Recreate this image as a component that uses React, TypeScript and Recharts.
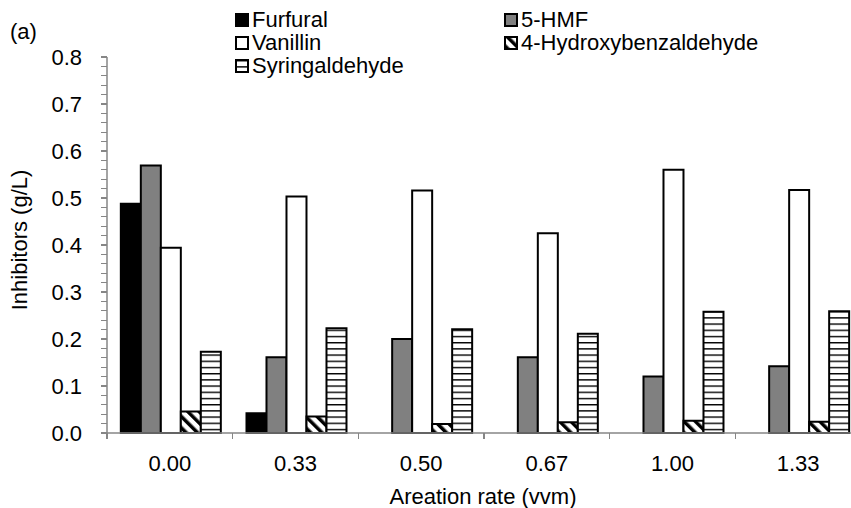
import { Bar, BarChart, XAxis, YAxis } from 'recharts';

const rates = ['0.00', '0.33', '0.50', '0.67', '1.00', '1.33'];
const furfural = [0.488, 0.042, 0, 0, 0, 0];
const hmf = [0.569, 0.161, 0.2, 0.161, 0.12, 0.142];
const vanillin = [0.394, 0.503, 0.516, 0.425, 0.56, 0.517];
const hydroxybenzaldehyde = [0.046, 0.035, 0.019, 0.023, 0.026, 0.024];
const syringaldehyde = [0.173, 0.223, 0.221, 0.211, 0.258, 0.259];
const yMajorTicks = [0, 0.1, 0.2, 0.3, 0.4, 0.5, 0.6, 0.7, 0.8];

// minor marks every 0.02 between the labelled ticks
const yMinorTicks = Array.from({ length: 41 }, (_, i) => i / 50);

const FONT = '"Liberation Sans", Arial, sans-serif';
const FONT_SIZE = 22;
const AXIS_GREY = '#868686';
const X_TICK_SIZE = 6;
const X_TICK_MARGIN = 16;
const Y_TICK_SIZE = 5;
const Y_TICK_MARGIN = 20;

const series = [
  { key: 'furfural', name: 'Furfural', fill: '#000000' },
  { key: 'hmf', name: '5-HMF', fill: '#808080' },
  { key: 'vanillin', name: 'Vanillin', fill: '#ffffff' },
  { key: 'hydroxy', name: '4-Hydroxybenzaldehyde', fill: 'url(#diagStripes)' },
  { key: 'syring', name: 'Syringaldehyde', fill: 'url(#hLines)' },
];

const data = rates.map((rate, i) => ({
  rate,
  furfural: furfural[i],
  hmf: hmf[i],
  vanillin: vanillin[i],
  hydroxy: hydroxybenzaldehyde[i],
  syring: syringaldehyde[i],
}));

// every tick gets a short grey mark; only the 0.1 steps get a label
function YTick({ x, y, payload }: any) {
  const v = payload.value;
  const isMajor = yMajorTicks.some((t) => Math.abs(t - v) < 1e-6);
  const markEnd = x + Y_TICK_MARGIN + Y_TICK_SIZE;
  return (
    <g>
      <line
        x1={markEnd - Y_TICK_SIZE - 1}
        x2={markEnd}
        y1={y}
        y2={y}
        stroke={AXIS_GREY}
        strokeWidth={1.2}
        shapeRendering="crispEdges"
      />
      {isMajor && (
        <text x={x} y={y} textAnchor="end" dominantBaseline="central" fontSize={FONT_SIZE} fontFamily={FONT} fill="#000">
          {v.toFixed(1)}
        </text>
      )}
    </g>
  );
}

// category ticks sit on the left edge of each band, labels in the middle
function XTick({ x, y, payload }: any) {
  const axisY = y - X_TICK_SIZE - X_TICK_MARGIN;
  const edge = x - (payload.offset ?? 0);
  return (
    <g>
      <line
        x1={edge}
        x2={edge}
        y1={axisY}
        y2={axisY + X_TICK_SIZE}
        stroke={AXIS_GREY}
        strokeWidth={1.2}
        shapeRendering="crispEdges"
      />
      <text x={x} y={y} textAnchor="middle" dominantBaseline="hanging" fontSize={FONT_SIZE} fontFamily={FONT} fill="#000">
        {payload.value}
      </text>
    </g>
  );
}

function LegendBox() {
  return (
    <div
      style={{
        position: 'absolute',
        left: 235,
        top: 8,
        display: 'grid',
        gridTemplateColumns: '269px auto',
        fontFamily: FONT,
        fontSize: FONT_SIZE,
        lineHeight: '23px',
        color: '#000',
      }}
    >
      {series.map((s) => (
        <div key={s.key} style={{ display: 'flex', alignItems: 'center', whiteSpace: 'nowrap' }}>
          <svg width={14} height={14} style={{ marginRight: 3 }}>
            <rect x={1} y={1} width={12} height={12} fill={s.fill} stroke="#000" strokeWidth={2} />
          </svg>
          {s.name}
        </div>
      ))}
    </div>
  );
}

export default function App() {
  return (
    <div style={{ position: 'fixed', left: 0, top: 0, width: 851, height: 508, overflow: 'hidden', background: '#fff' }}>
      <BarChart
        width={861}
        height={508}
        data={data}
        margin={{ top: 57, right: 0, bottom: 0, left: 0 }}
        barCategoryGap="11%"
        barGap={0}
      >
        <defs>
          <pattern id="diagStripes" patternUnits="userSpaceOnUse" width={8} height={8} patternTransform="rotate(-45)">
            <rect width={8} height={8} fill="#fff" />
            <rect width={3.5} height={8} fill="#000" />
          </pattern>
          <pattern id="hLines" patternUnits="userSpaceOnUse" width={8} height={6.2} y={1}>
            <rect width={8} height={6.2} fill="#fff" />
            <rect width={8} height={1.4} fill="#000" />
          </pattern>
        </defs>
        <XAxis
          dataKey="rate"
          height={75}
          axisLine={{ stroke: AXIS_GREY, strokeWidth: 1.5 }}
          tickLine={false}
          tickSize={X_TICK_SIZE}
          tickMargin={X_TICK_MARGIN}
          tick={<XTick />}
          interval={0}
        />
        <YAxis
          width={107}
          domain={[0, 0.8]}
          ticks={yMinorTicks}
          interval={0}
          axisLine={{ stroke: AXIS_GREY, strokeWidth: 1.5 }}
          tickLine={false}
          tickSize={Y_TICK_SIZE}
          tickMargin={Y_TICK_MARGIN}
          tick={<YTick />}
        />
        {series.map((s) => (
          <Bar
            key={s.key}
            dataKey={s.key}
            name={s.name}
            fill={s.fill}
            stroke="#000"
            strokeWidth={2}
            isAnimationActive={false}
          />
        ))}
      </BarChart>
      <LegendBox />
      <div style={{ position: 'absolute', left: 10, top: 19, fontFamily: FONT, fontSize: FONT_SIZE, lineHeight: '26px' }}>(a)</div>
      <div
        style={{
          position: 'absolute',
          left: 20,
          top: 240,
          transform: 'translate(-50%, -50%) rotate(-90deg)',
          fontFamily: FONT,
          fontSize: FONT_SIZE,
          whiteSpace: 'nowrap',
        }}
      >
        Inhibitors (g/L)
      </div>
      <div
        style={{
          position: 'absolute',
          left: 483,
          top: 497,
          transform: 'translate(-50%, -50%)',
          fontFamily: FONT,
          fontSize: FONT_SIZE,
          whiteSpace: 'nowrap',
        }}
      >
        Areation rate (vvm)
      </div>
    </div>
  );
}
